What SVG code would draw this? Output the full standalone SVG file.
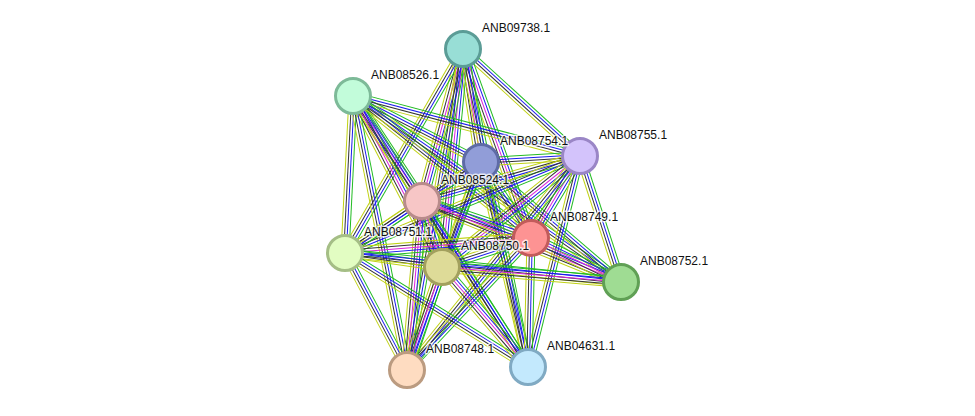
<svg xmlns="http://www.w3.org/2000/svg" xmlns:xlink="http://www.w3.org/1999/xlink" width="975" height="416" viewBox="0 0 975 416">
<style>
.cg{stroke:#22bb22}
.cb{stroke:#1a1aee}
.ck{stroke:#333333}
.cy{stroke:#c0d214}
.cm{stroke:#dd22dd}
#edges line{stroke-width:1.45;fill:none}
.node circle{stroke-width:3}
.node text{font-family:"Liberation Sans",Arial,sans-serif;font-size:12px;fill:#111;stroke:#fff;stroke-width:3px;stroke-opacity:0.75;paint-order:stroke;stroke-linejoin:round}
</style>
<defs>
<g id="b4">
<line x1="0" x2="1" y1="-4" y2="-4" class="cg"/>
<line x1="0" x2="1" y1="-1.33" y2="-1.33" class="cb"/>
<line x1="0" x2="1" y1="1.33" y2="1.33" class="ck"/>
<line x1="0" x2="1" y1="4" y2="4" class="cy"/>
</g>
<g id="b5">
<line x1="0" x2="1" y1="-5.3" y2="-5.3" class="cg"/>
<line x1="0" x2="1" y1="-2.65" y2="-2.65" class="cb"/>
<line x1="0" x2="1" y1="0" y2="0" class="cm"/>
<line x1="0" x2="1" y1="2.65" y2="2.65" class="ck"/>
<line x1="0" x2="1" y1="5.3" y2="5.3" class="cy"/>
</g>
</defs>
<g id="edges">
<use href="#b5" transform="translate(463,49) rotate(80.95) scale(114.4,1)"/>
<use href="#b4" transform="translate(463,49) rotate(42.44) scale(158.5,1)"/>
<use href="#b5" transform="translate(463,49) rotate(105.1) scale(157.4,1)"/>
<use href="#b5" transform="translate(463,49) rotate(70.21) scale(200.9,1)"/>
<use href="#b4" transform="translate(463,49) rotate(120.04) scale(235.7,1)"/>
<use href="#b5" transform="translate(463,49) rotate(95.5) scale(219,1)"/>
<use href="#b4" transform="translate(463,49) rotate(99.9) scale(325.8,1)"/>
<use href="#b4" transform="translate(463,49) rotate(78.45) scale(324.6,1)"/>
<use href="#b4" transform="translate(353,96) rotate(27.27) scale(144,1)"/>
<use href="#b4" transform="translate(353,96) rotate(14.81) scale(234.8,1)"/>
<use href="#b5" transform="translate(353,96) rotate(56.69) scale(125.6,1)"/>
<use href="#b4" transform="translate(353,96) rotate(38.58) scale(227.7,1)"/>
<use href="#b4" transform="translate(353,96) rotate(92.92) scale(157.2,1)"/>
<use href="#b5" transform="translate(353,96) rotate(62.5) scale(192.8,1)"/>
<use href="#b4" transform="translate(353,96) rotate(78.85) scale(279.3,1)"/>
<use href="#b4" transform="translate(353,96) rotate(57.15) scale(322.6,1)"/>
<use href="#b4" transform="translate(353,96) rotate(34.77) scale(326.2,1)"/>
<use href="#b4" transform="translate(481,162) rotate(-3.47) scale(99.2,1)"/>
<use href="#b4" transform="translate(481,162) rotate(146.54) scale(70.7,1)"/>
<use href="#b4" transform="translate(481,162) rotate(56.66) scale(91,1)"/>
<use href="#b4" transform="translate(481,162) rotate(146.21) scale(163.6,1)"/>
<use href="#b4" transform="translate(481,162) rotate(110.38) scale(112,1)"/>
<use href="#b4" transform="translate(481,162) rotate(40.6) scale(184.4,1)"/>
<use href="#b4" transform="translate(481,162) rotate(109.58) scale(220.8,1)"/>
<use href="#b4" transform="translate(481,162) rotate(77.09) scale(210.3,1)"/>
<use href="#b4" transform="translate(580,156) rotate(164.1) scale(164.3,1)"/>
<use href="#b5" transform="translate(580,156) rotate(120.86) scale(95.5,1)"/>
<use href="#b4" transform="translate(580,156) rotate(157.57) scale(254.2,1)"/>
<use href="#b5" transform="translate(580,156) rotate(141.19) scale(177.1,1)"/>
<use href="#b4" transform="translate(580,156) rotate(71.98) scale(132.5,1)"/>
<use href="#b4" transform="translate(580,156) rotate(128.95) scale(275.2,1)"/>
<use href="#b4" transform="translate(580,156) rotate(103.84) scale(217.3,1)"/>
<use href="#b5" transform="translate(422,201) rotate(18.75) scale(115.1,1)"/>
<use href="#b4" transform="translate(422,201) rotate(145.97) scale(92.9,1)"/>
<use href="#b5" transform="translate(422,201) rotate(73.14) scale(69,1)"/>
<use href="#b5" transform="translate(422,201) rotate(22.15) scale(214.9,1)"/>
<use href="#b5" transform="translate(422,201) rotate(95.07) scale(169.7,1)"/>
<use href="#b4" transform="translate(422,201) rotate(57.44) scale(197,1)"/>
<use href="#b5" transform="translate(531,238) rotate(175.39) scale(186.6,1)"/>
<use href="#b4" transform="translate(531,238) rotate(161.95) scale(93.6,1)"/>
<use href="#b5" transform="translate(531,238) rotate(26.05) scale(100.2,1)"/>
<use href="#b4" transform="translate(531,238) rotate(133.21) scale(181.1,1)"/>
<use href="#b4" transform="translate(531,238) rotate(91.33) scale(129,1)"/>
<use href="#b4" transform="translate(345,253) rotate(8.21) scale(98,1)"/>
<use href="#b4" transform="translate(345,253) rotate(6) scale(277.5,1)"/>
<use href="#b4" transform="translate(345,253) rotate(62.08) scale(132.4,1)"/>
<use href="#b4" transform="translate(345,253) rotate(31.92) scale(215.6,1)"/>
<use href="#b5" transform="translate(442,267) rotate(4.79) scale(179.6,1)"/>
<use href="#b5" transform="translate(442,267) rotate(108.77) scale(108.8,1)"/>
<use href="#b5" transform="translate(442,267) rotate(49.3) scale(131.9,1)"/>
</g>
<g id="node-ANB09738.1" class="node"><circle cx="463" cy="49" r="17.5" fill="#98ded6" stroke="#5b9c96"/><text x="482" y="32">ANB09738.1</text></g>
<g id="node-ANB08526.1" class="node"><circle cx="353" cy="96" r="17.5" fill="#c2fcda" stroke="#7dba98"/><text x="371" y="79">ANB08526.1</text></g>
<g id="node-ANB08755.1" class="node"><circle cx="580" cy="156" r="17.5" fill="#d3c3fb" stroke="#9a86c6"/><text x="599" y="139">ANB08755.1</text></g>
<g id="node-ANB08754.1" class="node"><circle cx="481" cy="162" r="17.5" fill="#919dd8" stroke="#5e6ba6"/><text x="500" y="145">ANB08754.1</text></g>
<g id="node-ANB08524.1" class="node"><circle cx="422" cy="201" r="17.5" fill="#f7c6c6" stroke="#b88b8b"/><text x="441" y="184">ANB08524.1</text></g>
<g id="node-ANB08749.1" class="node"><circle cx="531" cy="238" r="17.5" fill="#fd9393" stroke="#c25b5b"/><text x="550" y="221">ANB08749.1</text></g>
<g id="node-ANB08750.1" class="node"><circle cx="442" cy="267" r="17.5" fill="#dedb98" stroke="#a3a05e"/><text x="461" y="250">ANB08750.1</text></g>
<g id="node-ANB08751.1" class="node"><circle cx="345" cy="253" r="17.5" fill="#e2fdc2" stroke="#a5be86"/><text x="364" y="236">ANB08751.1</text></g>
<g id="node-ANB08752.1" class="node"><circle cx="621" cy="282" r="17.5" fill="#9fdc93" stroke="#60a055"/><text x="640" y="265">ANB08752.1</text></g>
<g id="node-ANB08748.1" class="node"><circle cx="407" cy="370" r="17.5" fill="#fedcc1" stroke="#bb9b80"/><text x="426" y="353">ANB08748.1</text></g>
<g id="node-ANB04631.1" class="node"><circle cx="528" cy="367" r="17.5" fill="#c3e9fd" stroke="#80aac3"/><text x="547" y="350">ANB04631.1</text></g>
</svg>
